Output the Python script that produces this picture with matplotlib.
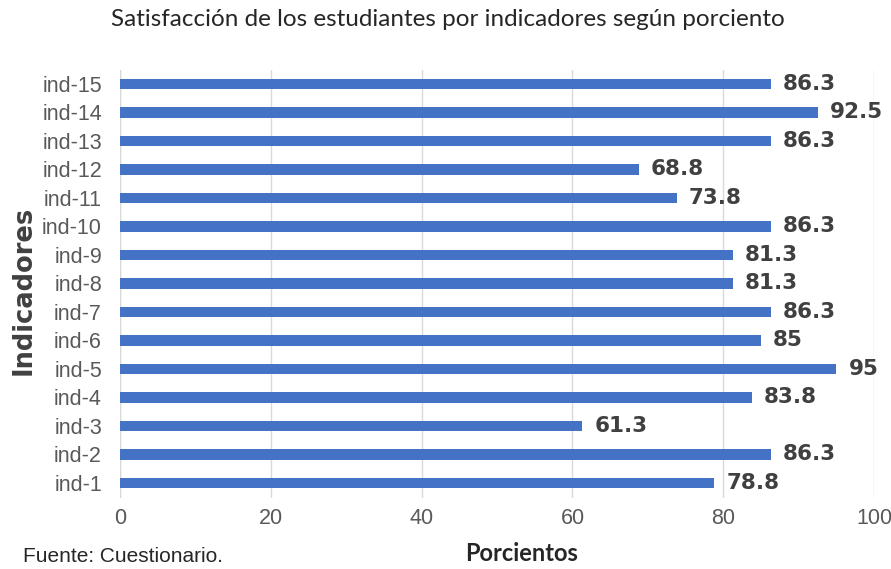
import matplotlib.pyplot as plt

# Data
indicadores = ['ind-1', 'ind-2', 'ind-3', 'ind-4', 'ind-5', 'ind-6', 'ind-7', 'ind-8',
               'ind-9', 'ind-10', 'ind-11', 'ind-12', 'ind-13', 'ind-14', 'ind-15']
porcientos = [78.8, 86.3, 61.3, 83.8, 95, 85, 86.3, 81.3,
              81.3, 86.3, 73.8, 68.8, 86.3, 92.5, 86.3]
xticks = [0, 20, 40, 60, 80, 100]

fig = plt.figure(figsize=(8.91, 5.69), dpi=100)
ax = fig.add_axes([0.1347, 0.1248, 0.8463, 0.7522])

ypos = list(range(len(indicadores)))
ax.barh(ypos, porcientos, height=0.36, color='#4472C4', zorder=3)

for y, v in zip(ypos, porcientos):
    ax.text(v + 1.6, y, f'{v:g}', va='center', ha='left', fontsize=15.5,
            fontweight='bold', color='#404040', family='DejaVu Sans', zorder=4)

ax.set_xlim(0, 100)
ax.set_ylim(-0.53, 14.49)
ax.set_xticks(xticks)
ax.set_yticks(ypos)
ax.set_yticklabels(indicadores)
ax.tick_params(axis='both', length=0, labelsize=15.5, labelcolor='#595959')
ax.tick_params(axis='x', pad=7.5)
ax.tick_params(axis='y', pad=13)
for lab in ax.get_xticklabels() + ax.get_yticklabels():
    lab.set_family('Liberation Sans')

ax.grid(axis='x', color='#D9D9D9', linewidth=1, zorder=0)
for s in ax.spines.values():
    s.set_visible(False)
ax.axvline(0, color='#D9D9D9', linewidth=1, zorder=1)

# Axis titles placed in figure coordinates
fig.text(0.585, 0.027, 'Porcientos', ha='center', va='center', fontsize=17,
         fontweight='bold', color='#262626', family='Lato')
fig.text(0.027, 0.49, 'Indicadores', ha='center', va='center', rotation=90,
         fontsize=18.5, fontweight='bold', color='#404040', family='DejaVu Sans')

fig.text(0.503, 0.965, 'Satisfacción de los estudiantes por indicadores según porciento',
         ha='center', va='center', fontsize=17.5, color='#262626', family='Lato')
fig.text(0.026, 0.022, 'Fuente: Cuestionario.', ha='left', va='center', fontsize=15,
         color='#262626', family='Liberation Sans')

fig.savefig('out.png', dpi=100)
